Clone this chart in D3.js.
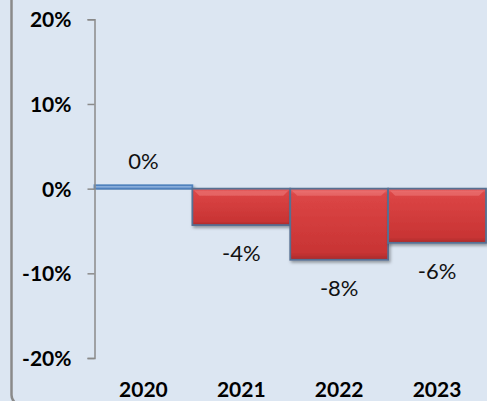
<!DOCTYPE html>
<html><head><meta charset="utf-8">
<script src="https://cdn.jsdelivr.net/npm/d3@7"></script>
<style>
html,body{margin:0;padding:0;background:#dce6f2;overflow:hidden;}
svg{display:block;}
</style></head>
<body>
<svg id="chart" width="487" height="401"></svg>
<script>
const categories = ["2020", "2021", "2022", "2023"];
const values = [0.004, -0.043, -0.084, -0.064];
const yTicks = [-0.2, -0.1, 0, 0.1, 0.2];

const W = 487, H = 401;
const svg = d3.select("#chart");
const loc = d3.formatLocale({decimal: ".", thousands: ",", grouping: [3], currency: ["", ""], minus: "-", percent: "%"});
const fmt = loc.format(".0%");

const defs = svg.append("defs");
const gr = defs.append("linearGradient").attr("id", "red").attr("x1", 0).attr("y1", 0).attr("x2", 0).attr("y2", 1);
[[0, "#ea6a6a"], [0.08, "#dc4646"], [0.5, "#d23c3c"], [0.9, "#c83434"], [1, "#a92a2a"]].forEach(s => gr.append("stop").attr("offset", s[0]).attr("stop-color", s[1]));
const gb = defs.append("linearGradient").attr("id", "blue").attr("x1", 0).attr("y1", 0).attr("x2", 0).attr("y2", 1);
[[0, "#a9c6ea"], [1, "#6e99d0"]].forEach(s => gb.append("stop").attr("offset", s[0]).attr("stop-color", s[1]));
const f = defs.append("filter").attr("id", "sh").attr("x", "-10%").attr("y", "-10%").attr("width", "130%").attr("height", "140%");
f.append("feDropShadow").attr("dx", 1.5).attr("dy", 2).attr("stdDeviation", 1.8).attr("flood-color", "#000").attr("flood-opacity", 0.35);

// chart frame
svg.append("rect").attr("x", 11.5).attr("y", -30).attr("width", 700).attr("height", 435)
  .attr("rx", 10).attr("fill", "#dce6f2").attr("stroke", "#8a8a8a").attr("stroke-width", 2.5);

const x = d3.scaleBand().domain(categories).range([94.5, 486]).paddingInner(0).paddingOuter(0);
const y = d3.scaleLinear().domain([-0.2, 0.2]).range([358, 19.3]);

// bars
const g = svg.append("g");
g.selectAll("rect.bar").data(categories).join("rect")
  .attr("class", "bar")
  .attr("x", d => x(d))
  .attr("width", x.bandwidth())
  .attr("y", (d, i) => y(Math.max(0, values[i])))
  .attr("height", (d, i) => Math.abs(y(values[i]) - y(0)))
  .attr("fill", (d, i) => values[i] >= 0 ? "url(#blue)" : "url(#red)")
  .attr("stroke", (d, i) => values[i] >= 0 ? "#4f81bd" : "#566f92")
  .attr("stroke-width", 1.8)
  .attr("filter", "url(#sh)");

// bevel highlight on negative bars
g.selectAll("path.bev").data(categories.filter((d, i) => values[i] < 0)).join("path")
  .attr("class", "bev")
  .attr("d", d => {
    const x0 = x(d) + 2, x1 = x(d) + x.bandwidth() - 2, y0 = y(0) + 2;
    return `M${x0},${y0}L${x1},${y0}L${x1 - 5},${y0 + 5}L${x0 + 5},${y0 + 5}Z`;
  })
  .attr("fill", "#ef7d7d").attr("opacity", 0.55);

// axis
const ax = svg.append("g").attr("transform", "translate(94.5,0)")
  .call(d3.axisLeft(y).tickValues(yTicks).tickSize(7).tickFormat(fmt));
ax.select(".domain").attr("stroke", "#8a8a8a").attr("stroke-width", 1.5);
ax.selectAll(".tick line").attr("stroke", "#8a8a8a").attr("stroke-width", 1.5);
ax.selectAll(".tick text").attr("x", -23).attr("dy", "0.36em")
  .attr("font-family", "Lato").attr("font-weight", "bold").attr("font-size", 21).attr("fill", "#000");

// category labels
svg.selectAll("text.cat").data(categories).join("text")
  .attr("class", "cat")
  .attr("x", d => x(d) + x.bandwidth() / 2)
  .attr("y", 397)
  .attr("text-anchor", "middle")
  .attr("font-family", "Lato").attr("font-weight", "bold").attr("font-size", 21).attr("fill", "#000")
  .text(d => d);

// data labels
svg.selectAll("text.lbl").data(categories).join("text")
  .attr("class", "lbl")
  .attr("x", d => x(d) + x.bandwidth() / 2)
  .attr("y", (d, i) => values[i] >= 0 ? y(values[i]) - 16 : y(values[i]) + 36)
  .attr("text-anchor", "middle")
  .attr("font-family", "Lato").attr("font-size", 22).attr("fill", "#111")
  .text((d, i) => fmt(values[i]));
</script>
</body></html>
